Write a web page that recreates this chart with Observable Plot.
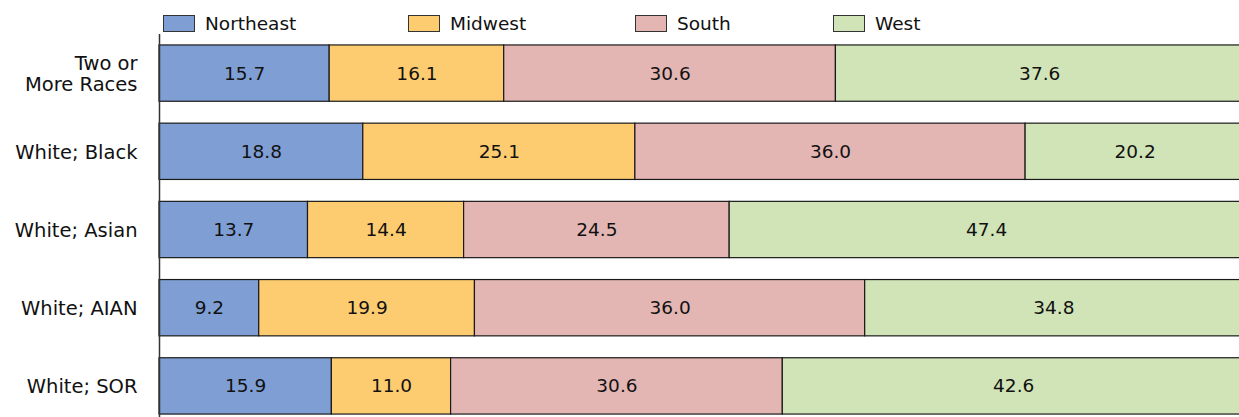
<!DOCTYPE html>
<html>
<head>
<meta charset="utf-8">
<script src="https://cdn.jsdelivr.net/npm/d3@7"></script>
<script src="https://cdn.jsdelivr.net/npm/@observablehq/plot@0.6"></script>
<style>
  html, body { margin: 0; padding: 0; background: #fff; overflow: hidden; }
  #wrap { position: relative; width: 1239px; height: 417px; font-family: "DejaVu Sans", sans-serif; }
  #legend { position: relative; height: 34px; }
  .item { position: absolute; top: 13px; display: flex; align-items: center; font-size: 18.5px; color: #111; }
  .sw { width: 32px; height: 17px; border: 1px solid #333; margin-right: 10px; box-sizing: border-box; }
  #chart svg { max-width: none !important; display: block; }
</style>
</head>
<body>
<div id="wrap">
  <div id="legend"></div>
  <div id="chart"></div>
</div>
<script>
const categories = ["Two or More Races", "White; Black", "White; Asian", "White; AIAN", "White; SOR"];
const categoryLabels = ["Two or\nMore Races", "White; Black", "White; Asian", "White; AIAN", "White; SOR"];
const regions = ["Northeast", "Midwest", "South", "West"];
const regionColors = ["#7f9fd4", "#fecc70", "#e3b6b4", "#d0e4b7"];
const northeast = [15.7, 18.8, 13.7, 9.2, 15.9];
const midwest = [16.1, 25.1, 14.4, 19.9, 11.0];
const south = [30.6, 36.0, 24.5, 36.0, 30.6];
const west = [37.6, 20.2, 47.4, 34.8, 42.6];
const legendLeft = [163, 408, 635, 833];

const series = [northeast, midwest, south, west];
const data = [];
categories.forEach((c, i) => {
  regions.forEach((r, j) => data.push({category: c, region: r, value: series[j][i]}));
});

// legend
const legend = document.getElementById("legend");
regions.forEach((r, j) => {
  const it = document.createElement("div");
  it.className = "item";
  it.style.left = legendLeft[j] + "px";
  const sw = document.createElement("div");
  sw.className = "sw";
  sw.style.background = regionColors[j];
  it.appendChild(sw);
  it.appendChild(document.createTextNode(r));
  legend.appendChild(it);
});

const labelMap = new Map(categories.map((c, i) => [c, categoryLabels[i]]));

const chart = Plot.plot({
  width: 1243,
  height: 391,
  marginLeft: 159,
  marginRight: 0,
  marginTop: 0,
  marginBottom: 0,
  style: {fontFamily: "DejaVu Sans, sans-serif", fontSize: "18px", color: "#111", background: "#fff", overflow: "visible", maxWidth: "none"},
  x: {domain: [0, 100], axis: null},
  y: {domain: categories, paddingInner: 0.28, paddingOuter: 0.14, round: false, label: null},
  color: {domain: regions, range: regionColors},
  marks: [
    Plot.barX(data, Plot.stackX({x: "value", y: "category", fill: "region", stroke: "#1a1a1a", strokeWidth: 1.2, inset: 0})),
    Plot.text(data, Plot.stackX({x: "value", y: "category", text: d => d.value.toFixed(1), fill: "#111", fontSize: 18.5})),
    Plot.axisY({tickSize: 0, tickPadding: 22, tickFormat: d => labelMap.get(d), fontSize: 19.5, lineHeight: 1.08, label: null}),
    Plot.ruleX([0], {stroke: "#333", strokeWidth: 1.5})
  ]
});
document.getElementById("chart").appendChild(chart);
</script>
</body>
</html>
